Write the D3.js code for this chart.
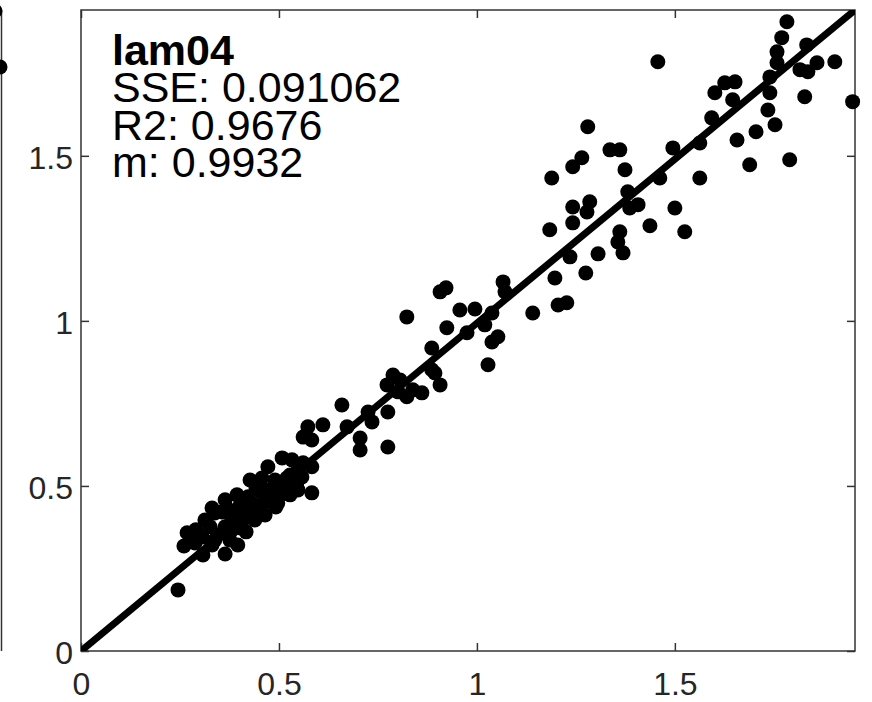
<!DOCTYPE html>
<html>
<head>
<meta charset="utf-8">
<script src="https://cdn.jsdelivr.net/npm/d3@7"></script>
<style>
  body { margin: 0; background: #fff; }
  svg { display: block; font-family: "Liberation Sans", Arial, Helvetica, sans-serif; }
</style>
</head>
<body>
<svg id="chart" width="872" height="702"></svg>
<script>
var xVals = [
  0.245, 0.268, 0.260, 0.306, 0.308, 0.364, 0.396, 0.338, 0.371, 0.394,
  0.364, 0.409, 0.452, 0.455, 0.432, 0.492, 0.472, 0.508, 0.490, 0.548,
  0.561, 0.561, 0.583, 0.548, 0.583, 0.515, 0.326, 0.346, 0.381, 0.331,
  0.417, 0.427, 0.402, 0.465, 0.477, 0.442, 0.381, 0.288, 0.356, 0.520,
  0.528, 0.422, 0.290, 0.495, 0.497, 0.573, 0.611, 0.558, 0.545, 0.659,
  0.672, 0.705, 0.705, 0.725, 0.735, 0.775, 0.775, 0.788, 0.773, 0.823,
  0.861, 0.886, 0.886, 0.907, 0.823, 0.801, 0.806, 0.838, 0.894, 0.907,
  0.922, 0.924, 0.957, 0.995, 0.975, 1.020, 1.038, 1.053, 1.038, 1.028,
  1.066, 1.071, 1.141, 1.197, 1.205, 1.227, 1.235, 1.275, 1.184, 1.189,
  1.242, 1.265, 1.280, 1.242, 1.285, 1.278, 1.242, 1.306, 1.361, 1.356,
  1.369, 1.336, 1.361, 1.374, 1.381, 1.407, 1.386, 1.437, 1.525, 1.462,
  1.500, 1.495, 1.563, 1.563, 1.457, 1.593, 1.601, 1.626, 1.652, 1.646,
  1.657, 1.689, 1.705, 1.735, 1.740, 1.740, 1.753, 1.758, 1.758, 1.770,
  1.783, 1.790, 1.816, 1.828, 1.836, 1.859, 1.833, 1.904, 1.949, 0.583,
  0.313, 0.338, 0.376, 0.389, 0.414, 0.439, 0.465, 0.477, 0.503, 0.427,
  0.457, 0.528, 0.364, 0.331, 0.402, 0.533
];
var yVals = [
  0.185, 0.358, 0.318, 0.345, 0.291, 0.294, 0.321, 0.418, 0.430, 0.473,
  0.376, 0.397, 0.418, 0.482, 0.448, 0.436, 0.558, 0.585, 0.518, 0.548,
  0.570, 0.648, 0.639, 0.488, 0.479, 0.497, 0.376, 0.352, 0.367, 0.321,
  0.361, 0.421, 0.442, 0.452, 0.488, 0.494, 0.397, 0.327, 0.421, 0.524,
  0.473, 0.467, 0.367, 0.509, 0.448, 0.679, 0.685, 0.527, 0.509, 0.745,
  0.679, 0.645, 0.609, 0.724, 0.694, 0.724, 0.618, 0.836, 0.806, 0.770,
  0.782, 0.918, 0.852, 0.806, 1.012, 0.785, 0.821, 0.791, 0.842, 1.088,
  1.100, 0.979, 1.033, 1.036, 0.964, 0.988, 1.024, 0.952, 0.936, 0.867,
  1.118, 1.088, 1.024, 1.130, 1.048, 1.055, 1.194, 1.145, 1.276, 1.433,
  1.467, 1.494, 1.588, 1.345, 1.361, 1.330, 1.297, 1.203, 1.270, 1.239,
  1.206, 1.518, 1.518, 1.458, 1.391, 1.352, 1.342, 1.288, 1.270, 1.433,
  1.342, 1.524, 1.539, 1.433, 1.785, 1.615, 1.691, 1.721, 1.724, 1.670,
  1.548, 1.473, 1.573, 1.639, 1.691, 1.739, 1.594, 1.782, 1.815, 1.858,
  1.906, 1.488, 1.761, 1.679, 1.755, 1.782, 1.836, 1.785, 1.664, 0.558,
  0.397, 0.336, 0.336, 0.412, 0.421, 0.397, 0.412, 0.467, 0.473, 0.518,
  0.524, 0.533, 0.458, 0.433, 0.373, 0.579
];

var tickVals = [0, 0.5, 1, 1.5];
var labelLines = ["lam04", "SSE: 0.091062", "R2: 0.9676", "m: 0.9932"];
var slope = 0.9932;
var xMax = 1.955;
var yMax = slope * xMax;

var svg = d3.select("#chart");
var box = { left: 81, right: 855, top: 10, bottom: 651 };

var x = d3.scaleLinear().domain([0, xMax]).range([box.left, box.right]);
var y = d3.scaleLinear().domain([0, yMax]).range([box.bottom, box.top]);

var axisColor = "#333";

// sliver of the neighbouring panel at the far left
svg.append("line")
    .attr("x1", 1.5).attr("x2", 1.5)
    .attr("y1", box.top).attr("y2", box.bottom)
    .attr("stroke", axisColor).attr("stroke-width", 1.5);
svg.append("circle").attr("cx", 0).attr("cy", 67).attr("r", 7.5).attr("fill", "#000");
svg.append("circle").attr("cx", -5).attr("cy", 11).attr("r", 7.5).attr("fill", "#000");

svg.append("clipPath").attr("id", "plotClip")
  .append("rect")
    .attr("x", box.left).attr("y", box.top)
    .attr("width", box.right - box.left).attr("height", box.bottom - box.top);

// axes, ticks pointing inward on all four sides
function styleAxis(g) {
    g.select(".domain").remove();
    g.selectAll(".tick line").attr("stroke", axisColor).attr("stroke-width", 1.5);
    g.selectAll(".tick text").attr("fill", "#262626").style("font-size", "32px");
}

svg.append("g")
    .attr("transform", "translate(0," + box.bottom + ")")
    .call(d3.axisBottom(x).tickValues(tickVals).tickSize(-8).tickPadding(21)
        .tickFormat(d3.format("")))
    .call(styleAxis);

svg.append("g")
    .attr("transform", "translate(" + box.left + ",0)")
    .call(d3.axisLeft(y).tickValues(tickVals).tickSize(-8).tickPadding(8)
        .tickFormat(d3.format("")))
    .call(styleAxis)
    .selectAll(".tick text").attr("dy", "0.4em");

svg.append("g")
    .attr("transform", "translate(0," + box.top + ")")
    .call(d3.axisTop(x).tickValues(tickVals).tickSize(-8).tickFormat(""))
    .call(styleAxis);

svg.append("g")
    .attr("transform", "translate(" + box.right + ",0)")
    .call(d3.axisRight(y).tickValues(tickVals).tickSize(-8).tickFormat(""))
    .call(styleAxis);

svg.append("rect")
    .attr("x", box.left).attr("y", box.top)
    .attr("width", box.right - box.left).attr("height", box.bottom - box.top)
    .attr("fill", "none").attr("stroke", axisColor).attr("stroke-width", 1.5);

// scatter points
var pts = xVals.map(function (d, i) { return { x: d, y: yVals[i] }; });
svg.append("g").selectAll("circle")
    .data(pts)
    .enter().append("circle")
    .attr("cx", function (d) { return x(d.x); })
    .attr("cy", function (d) { return y(d.y); })
    .attr("r", 7.5)
    .attr("fill", "#000");

// fit line y = m x
svg.append("line")
    .attr("clip-path", "url(#plotClip)")
    .attr("x1", x(0)).attr("y1", y(0))
    .attr("x2", x(xMax)).attr("y2", y(slope * xMax))
    .attr("stroke", "#000").attr("stroke-width", 7);

// annotation, tight line spacing as in the original
var lineBase = [65, 102, 140, 177];
svg.append("g").selectAll("text")
    .data(labelLines)
    .enter().append("text")
    .attr("x", 112)
    .attr("y", function (d, i) { return lineBase[i]; })
    .attr("fill", "#000")
    .style("font-size", "43px")
    .style("font-weight", function (d, i) { return i === 0 ? "bold" : "normal"; })
    .text(function (d) { return d; });
</script>
</body>
</html>
